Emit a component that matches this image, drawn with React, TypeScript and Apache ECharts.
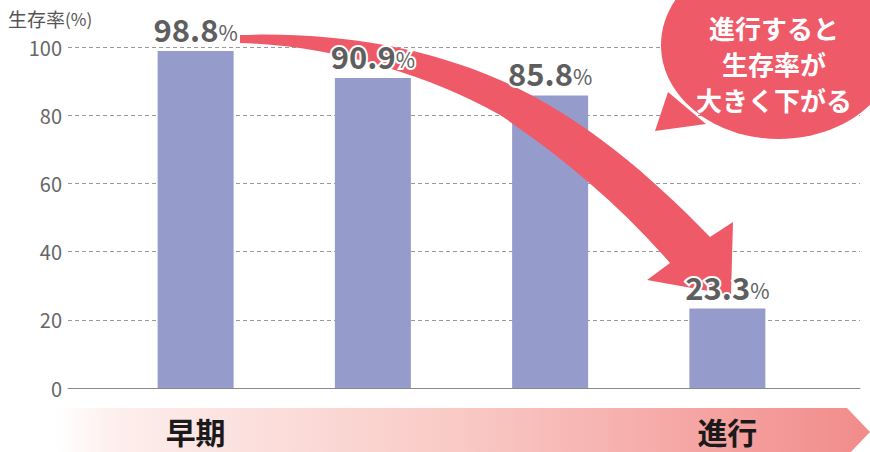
import React, { useEffect, useRef } from 'react';
import * as echarts from 'echarts';

const stageKeys = ['I期', 'II期', 'III期', 'IV期'];
const stageLabels = ['早期', '', '', '進行'];
const survival = [98.8, 90.9, 85.8, 23.3];
const yMin = 0;
const yMax = 100;
const yStep = 20;
const yAxisTitle = '生存率';
const yAxisUnit = '(%)';
const bubbleLines = ['進行すると', '生存率が', '大きく下がる'];

const FONT = "'Noto Sans CJK JP', 'Noto Sans', sans-serif";

const ARROW_D =
  'M240 35 C330 32 420 45 500 80 C580 115 650 175 710 237 L733 222 L731 295 L647 280 L670 263 C620 205 560 155 500 115 C430 75 330 45 240 43 Z';

let registered = false;
function ensureShapes() {
  if (registered) return;
  echarts.graphic.registerShape('bigArrow', echarts.graphic.extendPath(ARROW_D, {}));
  registered = true;
}

export default function App() {
  const ref = useRef<HTMLDivElement>(null);
  useEffect(() => {
    ensureShapes();
    const chart = echarts.init(ref.current!, undefined, { renderer: 'svg' });
    const labelColor = '#5e5e5e';
    chart.setOption({
      animation: false,
      textStyle: { fontFamily: FONT },
      grid: [
        { left: 68, right: 10, top: 47, bottom: 64 },
        { left: 107, right: 54, top: 47, bottom: 64 },
      ],
      xAxis: [
        {
          type: 'value',
          gridIndex: 0,
          min: 0,
          max: 1,
          axisLine: { show: true, lineStyle: { color: '#8a8a8a', width: 1 } },
          axisTick: { show: false },
          axisLabel: { show: false },
          splitLine: { show: false },
        },
        {
          type: 'category',
          gridIndex: 1,
          data: stageKeys,
          axisLine: { show: false },
          axisTick: { show: false },
          axisLabel: {
            interval: 0,
            margin: 28,
            fontSize: 30,
            fontWeight: 'bold',
            color: '#1a1a1a',
            fontFamily: FONT,
            formatter: (_v: string, i: number) => stageLabels[i],
          },
        },
      ],
      yAxis: [
        {
          type: 'value',
          gridIndex: 0,
          min: yMin,
          max: yMax,
          interval: yStep,
          axisLine: { show: false },
          axisTick: { show: false },
          axisLabel: { fontSize: 20, color: '#666', margin: 6, fontFamily: FONT },
          splitLine: { lineStyle: { color: '#999', type: [4, 3], width: 1 } },
        },
        {
          type: 'value',
          gridIndex: 1,
          min: yMin,
          max: yMax,
          interval: yStep,
          show: false,
        },
      ],
      series: [
        {
          type: 'bar',
          xAxisIndex: 1,
          yAxisIndex: 1,
          data: survival,
          barWidth: 76,
          barGap: '-100%',
          itemStyle: { color: '#959ccc' },
          z: 2,
        },
        {
          type: 'bar',
          xAxisIndex: 1,
          yAxisIndex: 1,
          data: survival,
          barWidth: 76,
          barGap: '-100%',
          itemStyle: { color: 'rgba(0,0,0,0)' },
          z: 5,
          label: {
            show: true,
            position: 'top',
            distance: 7,
            textBorderColor: '#fff',
            textBorderWidth: 4,
            formatter: (p: any) => `{n|${p.value.toFixed(1)}}{p|%}`,
            rich: {
              n: {
                fontSize: 31,
                fontWeight: 'bold',
                color: labelColor,
                fontFamily: FONT,
                textBorderColor: '#fff',
                textBorderWidth: 4,
              },
              p: {
                fontSize: 21,
                color: labelColor,
                fontFamily: FONT,
                textBorderColor: '#fff',
                textBorderWidth: 4,
                padding: [7, 0, 0, 0],
              },
            },
          },
        },
      ],
      graphic: [
        {
          type: 'polygon',
          z: -1,
          shape: {
            points: [
              [55, 408],
              [847, 408],
              [870, 432],
              [847, 456],
              [55, 456],
            ],
          },
          style: {
            fill: new echarts.graphic.LinearGradient(0, 0, 1, 0, [
              { offset: 0, color: '#ffffff' },
              { offset: 0.08, color: '#fdeeec' },
              { offset: 0.5, color: '#f9c9c5' },
              { offset: 1, color: '#f28b8b' },
            ]),
          },
        },
        {
          type: 'bigArrow',
          z: 3,
          x: 0,
          y: 0,
          style: { fill: '#ef5a69' },
        },
        {
          type: 'ellipse',
          z: 3,
          shape: { cx: 779, cy: 45, rx: 118, ry: 94 },
          style: { fill: '#ef5a69' },
        },
        {
          type: 'polygon',
          z: 3,
          shape: {
            points: [
              [655, 131],
              [668, 92],
              [706, 124],
            ],
          },
          style: { fill: '#ef5a69' },
        },
        {
          type: 'text',
          z: 4,
          x: 774,
          y: 63,
          style: {
            text: bubbleLines.join('\n'),
            fill: '#fff',
            font: `bold 26px ${FONT}`,
            lineHeight: 36,
            align: 'center',
            verticalAlign: 'middle',
          },
        },
        {
          type: 'text',
          z: 4,
          x: 8,
          y: 18,
          style: {
            text: `{a|${yAxisTitle}}{b|${yAxisUnit}}`,
            verticalAlign: 'middle',
            rich: {
              a: { fontSize: 19, fill: '#555', fontFamily: FONT },
              b: { fontSize: 17, fill: '#555', fontFamily: FONT },
            },
          },
        },
      ],
    });
    return () => chart.dispose();
  }, []);
  return (
    <div
      ref={ref}
      style={{ position: 'absolute', left: 0, top: 0, width: 870, height: 452 }}
    />
  );
}
